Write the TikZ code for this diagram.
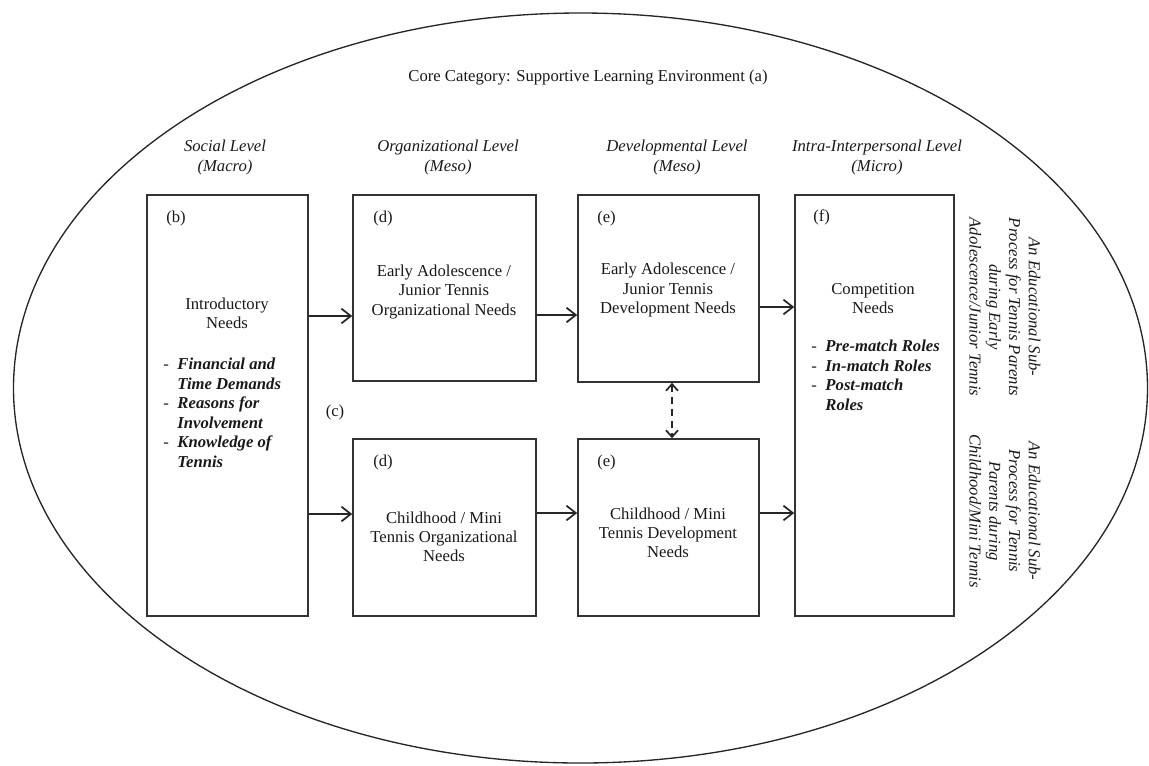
\documentclass[tikz,border=0pt]{standalone}
\usepackage{fontspec}
\setmainfont{Liberation Serif}
\usetikzlibrary{arrows.meta}
\begin{document}
\begin{tikzpicture}[x=0.75pt,y=-0.75pt,
  box/.style={draw=black!80, line width=1.2pt, rectangle, inner sep=0pt},
  txt/.style={font=\fontsize{12.5}{14.3}\selectfont, text=black!90, align=center, inner sep=0pt},
  hdr/.style={font=\fontsize{12.5}{14.3}\selectfont\itshape, text=black!90, align=center, inner sep=0pt},
  side/.style={font=\fontsize{12.5}{14.8}\selectfont\itshape, text=black!90, align=center, inner sep=0pt, rotate=-90},
  lst/.style={font=\fontsize{12.5}{14.6}\selectfont, text=black!90, inner sep=0pt, anchor=west},
  arr/.style={draw=black!85, line width=1.3pt, -{Straight Barb[length=7pt,width=11pt,line width=1.3pt]}},
  dasharr/.style={draw=black!85, line width=1.3pt, dash pattern=on 5pt off 4pt,
     {Straight Barb[length=5pt,width=9pt,line width=1.3pt]}-{Straight Barb[length=5pt,width=9pt,line width=1.3pt]}}
]
\useasboundingbox (0,0) rectangle (1149,765);

% outer ellipse
\draw[line width=1pt, black!85] (580.5,388) ellipse [x radius=425.25pt, y radius=281.25pt];

% title and level headers
\node[txt] (title) at (588,78) {Core Category: Supportive Learning Environment (a)};
\node[hdr] (h1) at (225,157.5) {Social Level\\(Macro)};
\node[hdr] (h2) at (448,157.5) {Organizational Level\\(Meso)};
\node[hdr] (h3) at (677,157.5) {Developmental Level\\(Meso)};
\node[hdr] (h4) at (877,157.5) {Intra-Interpersonal Level\\(Micro)};

% boxes
\node[box, minimum width=120.75pt, minimum height=315.75pt] (b) at (227.5,405.5) {};
\node[box, minimum width=137.25pt, minimum height=139.5pt] (d1) at (444.5,288) {};
\node[box, minimum width=135.75pt, minimum height=140.25pt] (e1) at (668.5,288.5) {};
\node[box, minimum width=137.25pt, minimum height=132.75pt] (d2) at (444.5,527.5) {};
\node[box, minimum width=135.75pt, minimum height=132.75pt] (e2) at (668.5,527.5) {};
\node[box, minimum width=119.25pt, minimum height=315.75pt] (f) at (874.5,405.5) {};

% letter labels
\node[txt, anchor=west] (lb) at (166,218) {(b)};
\node[txt, anchor=west] (ld1) at (373,218) {(d)};
\node[txt, anchor=west] (le1) at (597,218) {(e)};
\node[txt, anchor=west] (lf) at (813,217) {(f)};
\node[txt, anchor=west] (ld2) at (373,462) {(d)};
\node[txt, anchor=west] (le2) at (597,462) {(e)};
\node[txt] (lc) at (335,412) {(c)};

% box texts
\node[txt] (tb) at (227,313) {Introductory\\Needs};
\node[lst] (lsb) at (163,414.5) {\begin{tabular}{@{}l@{\hspace{6.5pt}}l@{}}
-&\textit{\bfseries Financial and}\\ &\textit{\bfseries Time Demands}\\
-&\textit{\bfseries Reasons for}\\ &\textit{\bfseries Involvement}\\
-&\textit{\bfseries Knowledge of}\\ &\textit{\bfseries Tennis}\end{tabular}};
\node[txt] (td1) at (444,292) {Early Adolescence /\\Junior Tennis\\Organizational Needs};
\node[txt] (te1) at (668,290) {Early Adolescence /\\Junior Tennis\\Development Needs};
\node[txt] (td2) at (444,537) {Childhood / Mini\\Tennis Organizational\\Needs};
\node[txt] (te2) at (668,533) {Childhood / Mini\\Tennis Development\\Needs};
\node[txt] (tf) at (873,299) {Competition\\Needs};
\node[lst] (lsf) at (811,377) {\begin{tabular}{@{}l@{\hspace{6.5pt}}l@{}}
-&\textit{\bfseries Pre-match Roles}\\
-&\textit{\bfseries In-match Roles}\\
-&\textit{\bfseries Post-match}\\ &\textit{\bfseries Roles}\end{tabular}};

% side texts
\node[side] (s1) at (1005,307) {An Educational Sub-\\Process for Tennis Parents\\during Early\\Adolescence/Junior Tennis};
\node[side] (s2) at (1005,511) {An Educational Sub-\\Process for Tennis\\Parents during\\Childhood/Mini Tennis};

% connectors
\draw[arr] (b.east |- 0,316) -- (d1.west |- 0,316);
\draw[arr] (b.east |- 0,514) -- (d2.west |- 0,514);
\draw[arr] (d1.east |- 0,315) -- (e1.west |- 0,315);
\draw[arr] (d2.east |- 0,513) -- (e2.west |- 0,513);
\draw[arr] (e1.east |- 0,307) -- (f.west |- 0,307);
\draw[arr] (e2.east |- 0,513) -- (f.west |- 0,513);
\draw[dasharr] (e1.south -| 672,0) -- (e2.north -| 672,0);
\end{tikzpicture}
\end{document}
